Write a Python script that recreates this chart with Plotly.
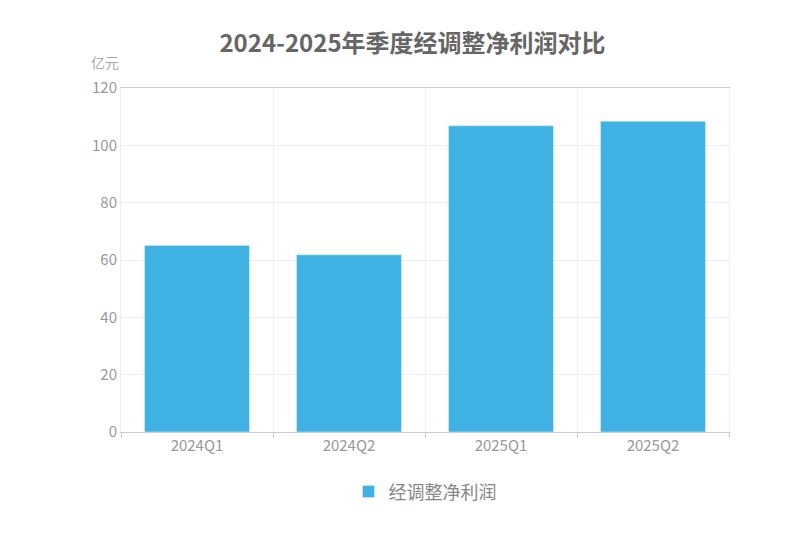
import plotly.graph_objects as go

quarters = ["2024Q1", "2024Q2", "2025Q1", "2025Q2"]
adj_profit = [65.1, 61.8, 106.8, 108.4]

fig = go.Figure(
    go.Bar(
        x=quarters,
        y=adj_profit,
        name="经调整净利润",
        marker_color="#3fb1e3",
        showlegend=True,
    )
)

fig.update_layout(
    width=809,
    height=539,
    plot_bgcolor="white",
    paper_bgcolor="white",
    font=dict(family="Noto Sans CJK SC, sans-serif", color="#999999"),
    title=dict(
        text="<b>2024-2025年季度经调整净利润对比</b>",
        x=0.5,
        y=0.95,
        xanchor="center",
        font=dict(size=24, color="#666666"),
    ),
    margin=dict(l=113, r=88, t=80, b=115),
    bargap=0.31,
    legend=dict(
        orientation="h",
        x=0.5,
        xanchor="center",
        y=-0.12,
        yanchor="top",
        font=dict(size=18, color="#888888"),
    ),
    annotations=[
        dict(
            text="亿元",
            xref="paper",
            yref="paper",
            x=0.0,
            y=1.04,
            xanchor="right",
            yanchor="bottom",
            showarrow=False,
            font=dict(size=14, color="#aaaaaa"),
        )
    ],
)

fig.update_xaxes(
    tickson="boundaries",
    showgrid=True,
    gridcolor="#eeeeee",
    showline=True,
    linecolor="#cccccc",
    mirror=True,
    ticks="outside",
    tickcolor="#cccccc",
    ticklen=5,
    tickfont=dict(size=15, color="#999999"),
)
fig.update_yaxes(
    range=[0, 120],
    dtick=20,
    showgrid=True,
    gridcolor="#eeeeee",
    showline=True,
    linecolor="#eeeeee",
    mirror=True,
    zeroline=False,
    tickfont=dict(size=15, color="#999999"),
)

fig.write_html("out.html")
